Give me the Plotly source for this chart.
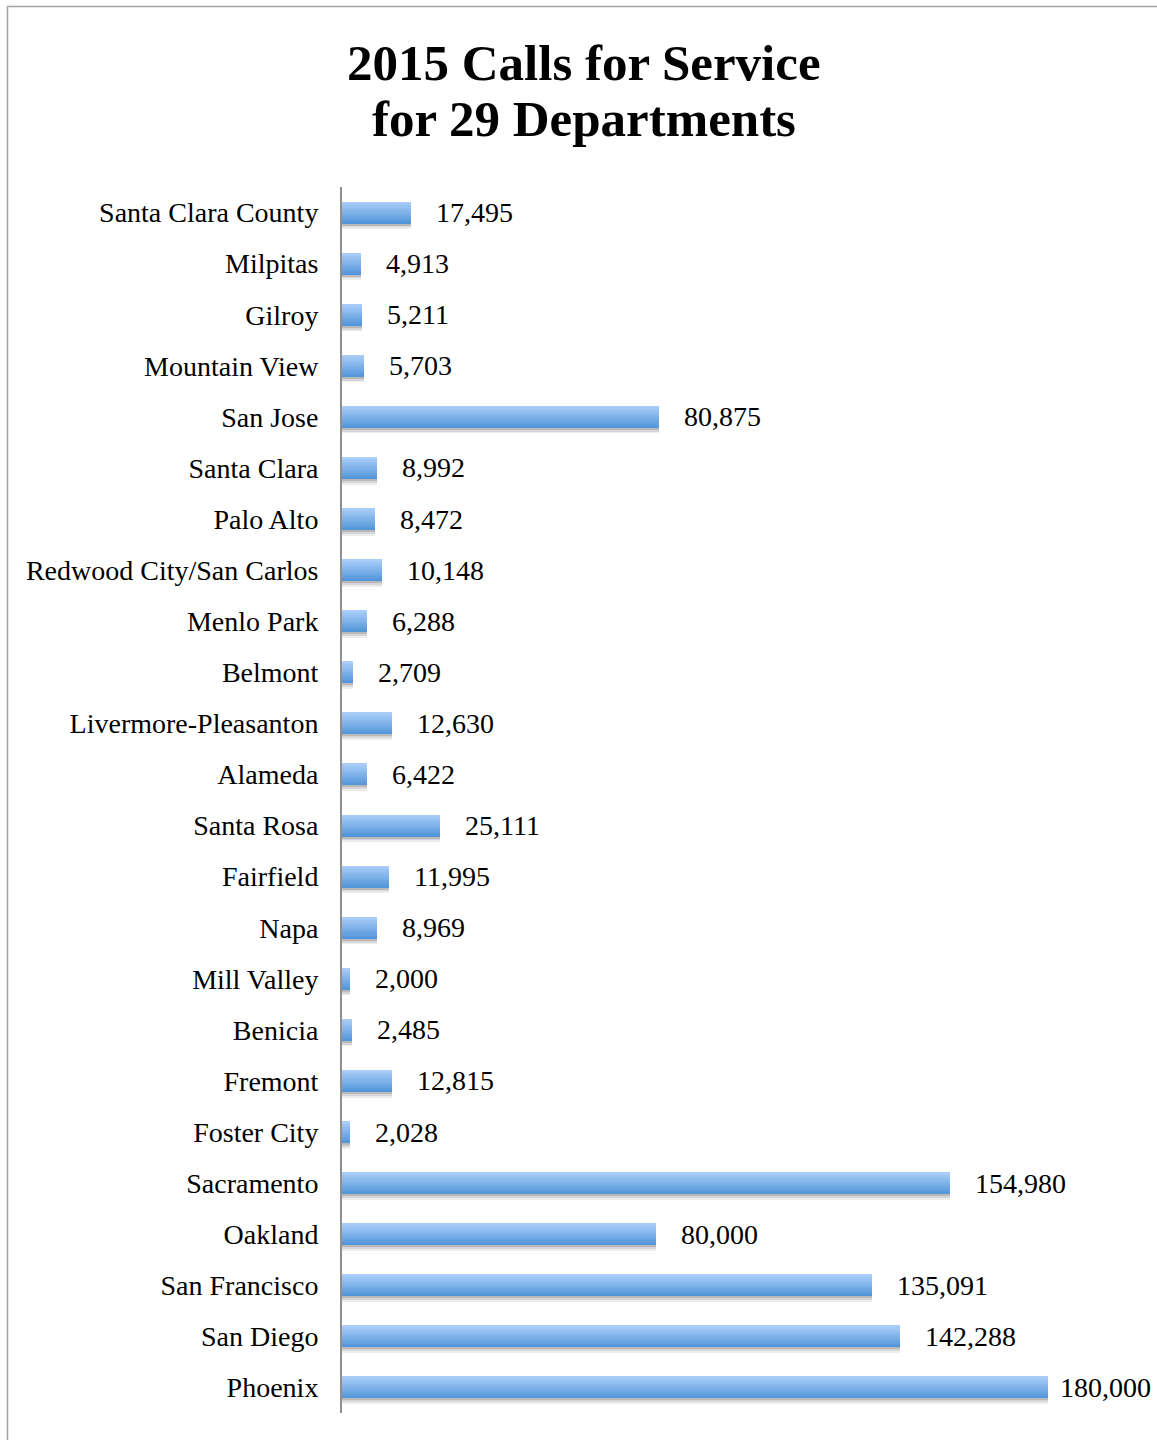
import plotly.graph_objects as go

# Departments and their 2015 calls for service
departments = [
    "Santa Clara County", "Milpitas", "Gilroy", "Mountain View", "San Jose",
    "Santa Clara", "Palo Alto", "Redwood City/San Carlos", "Menlo Park", "Belmont",
    "Livermore-Pleasanton", "Alameda", "Santa Rosa", "Fairfield", "Napa",
    "Mill Valley", "Benicia", "Fremont", "Foster City", "Sacramento",
    "Oakland", "San Francisco", "San Diego", "Phoenix",
]
calls = [
    17495, 4913, 5211, 5703, 80875,
    8992, 8472, 10148, 6288, 2709,
    12630, 6422, 25111, 11995, 8969,
    2000, 2485, 12815, 2028, 154980,
    80000, 135091, 142288, 180000,
]

W, H = 1157, 1440
ML, MR, MT, MB = 342, 31, 187, 27
PW, PH = W - ML - MR, H - MT - MB

FONT = "Liberation Serif"
BAR_H = 0.43
TOP = -BAR_H / 2          # upper edge of a bar, relative to its category
BOTTOM = BAR_H / 2        # lower edge

fig = go.Figure()

# Soft drop shadow: layered translucent bars reaching slightly below each bar
for col, extra in [("rgba(110,110,110,0.12)", 0.11), ("rgba(110,110,110,0.18)", 0.075),
                   ("rgba(100,100,100,0.25)", 0.04)]:
    fig.add_trace(go.Bar(
        y=departments, x=calls, orientation="h",
        width=BAR_H + extra, offset=TOP,
        marker=dict(color=col, line=dict(width=0)),
        hoverinfo="skip", showlegend=False,
    ))

# Vertical gradient: stacked layers that all end at the lower edge,
# each starting a little lower and a little darker than the one before
top_rgb = (170, 206, 249)
bot_rgb = (84, 150, 218)
N = 14
step = BAR_H / N
for k in range(N):
    t = k / (N - 1)
    r, g, b = (round(top_rgb[i] + (bot_rgb[i] - top_rgb[i]) * t) for i in range(3))
    fig.add_trace(go.Bar(
        y=departments, x=calls, orientation="h",
        width=BAR_H - k * step, offset=TOP + k * step,
        marker=dict(color=f"rgb({r},{g},{b})", line=dict(width=0)),
        hoverinfo="skip", showlegend=False,
    ))

# Value labels to the right of each bar
vmax = max(calls)
for d, v in zip(departments, calls):
    fig.add_annotation(
        x=v, y=d, xref="x", yref="y", text=f"{v:,}",
        showarrow=False, xanchor="left", yanchor="middle",
        xshift=23 if v < vmax else 10,
        font=dict(family=FONT, size=28, color="black"),
    )

# Two-line title
for line, py in [("2015 Calls for Service", 63), ("for 29 Departments", 119)]:
    fig.add_annotation(
        x=(584 - ML) / PW, y=(H - MB - py) / PH, xref="paper", yref="paper",
        text=f"<b>{line}</b>", showarrow=False, xanchor="center", yanchor="middle",
        font=dict(family=FONT, size=51, color="black"),
    )

# Frame line along the top and left of the page
fig.add_shape(
    type="rect", xref="paper", yref="paper",
    x0=(7.5 - ML) / PW, x1=(W + 20 - ML) / PW,
    y0=(H - MB - (H + 20)) / PH, y1=(H - MB - 6.5) / PH,
    line=dict(color="#a3a3a3", width=1.5), fillcolor="rgba(0,0,0,0)", layer="below",
)

fig.update_layout(
    width=W, height=H,
    margin=dict(l=ML, r=MR, t=MT, b=MB, pad=0),
    paper_bgcolor="white", plot_bgcolor="white",
    barmode="overlay", bargap=0,
    showlegend=False,
    font=dict(family=FONT, size=28, color="black"),
    xaxis=dict(range=[0, 200000], visible=False, fixedrange=True),
    yaxis=dict(
        autorange="reversed", showgrid=False, zeroline=False,
        showline=True, linecolor="#8f8f8f", linewidth=2,
        ticks="", ticklabelstandoff=16,
        tickfont=dict(family=FONT, size=28, color="black"),
    ),
)

fig.write_html("out.html")
